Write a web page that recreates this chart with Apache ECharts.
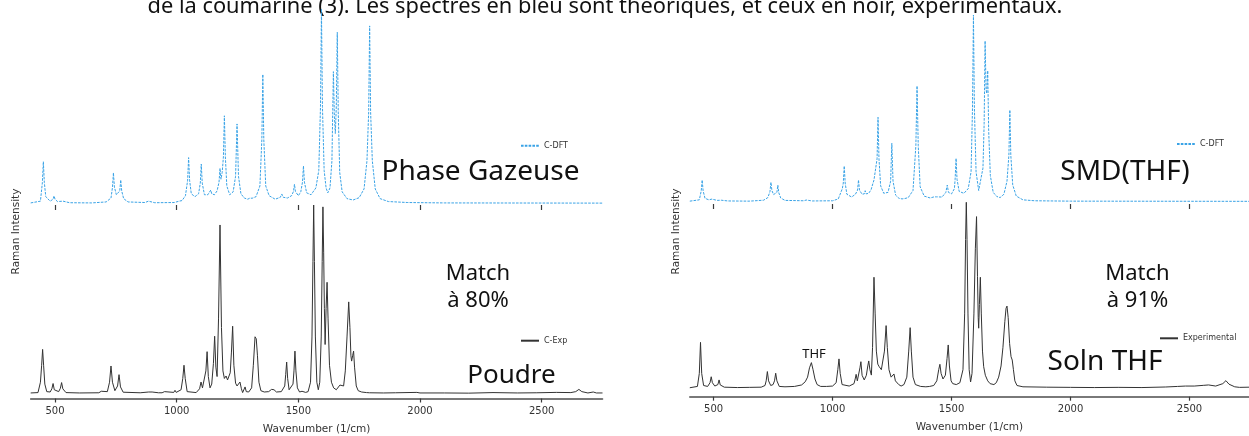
<!DOCTYPE html>
<html>
<head>
<meta charset="utf-8">
<script src="https://cdn.jsdelivr.net/npm/echarts@6/dist/echarts.min.js"></script>
<style>
  html, body { margin: 0; padding: 0; background: #fff; }
  #chart { width: 1249px; height: 436px; }
</style>
</head>
<body>
<div id="chart"></div>
<script>
// Raman spectra of coumarin: [wavenumber (1/cm), normalised intensity]
const gasDft = [
  [400,.003],[440,.012],[448,.108],[452,.215],[456,.108],[462,.035],[480,.012],[492,.022],[496,.039],[500,.022],
  [510,.01],[533,.012],[537,.02],[541,.012],[560,.004],[650,.003],[710,.008],[730,.028],[736,.082],[740,.158],
  [744,.085],[752,.045],[760,.045],[766,.065],[770,.121],[774,.065],[782,.025],[800,.008],[870,.005],[884,.012],
  [888,.02],[892,.012],[910,.004],[990,.005],[1010,.012],[1016,.02],[1022,.015],[1036,.04],[1045,.12],[1049,.236],
  [1053,.12],[1060,.05],[1075,.035],[1090,.05],[1097,.105],[1101,.203],[1105,.105],[1114,.045],[1128,.045],[1136,.05],
  [1140,.069],[1144,.05],[1155,.045],[1166,.065],[1174,.11],[1178,.181],[1182,.125],[1187,.16],[1192,.24],[1196,.451],
  [1200,.24],[1206,.09],[1218,.045],[1232,.06],[1242,.14],[1248,.409],[1254,.14],[1264,.05],[1278,.028],[1284,.028],
  [1292,.022],[1301,.028],[1305,.03],[1310,.027],[1326,.035],[1342,.09],[1350,.33],[1354,.664],[1358,.33],[1366,.09],
  [1380,.04],[1405,.022],[1426,.032],[1432,.049],[1438,.032],[1455,.028],[1472,.04],[1480,.062],[1484,.099],[1488,.062],
  [1500,.04],[1510,.06],[1517,.11],[1521,.193],[1525,.11],[1534,.055],[1552,.045],[1572,.08],[1584,.17],[1591,.5],
  [1595,1.0],[1599,.5],[1606,.17],[1614,.08],[1621,.055],[1630,.08],[1638,.22],[1644,.678],[1648,.45],[1652,.36],
  [1656,.5],[1660,.88],[1664,.47],[1670,.16],[1680,.06],[1700,.025],[1725,.018],[1750,.03],[1770,.075],[1782,.22],
  [1789,.47],[1793,.913],[1797,.47],[1804,.22],[1816,.075],[1836,.025],[1870,.01],[1950,.005],[2100,.003],[2750,.002]
];

const powderExp = [
  [400,.003],[430,.005],[440,.06],[445,.15],[449,.234],[453,.15],[458,.05],[466,.01],[480,.008],[487,.025],
  [492,.053],[497,.02],[515,.01],[522,.028],[527,.058],[532,.025],[545,.005],[600,.003],[680,.004],[690,.012],
  [696,.005],[715,.01],[724,.06],[730,.146],[736,.06],[746,.015],[757,.04],[763,.1],[769,.035],[780,.007],
  [850,.004],[885,.008],[892,.017],[899,.008],[925,.004],[932,.01],[940,.004],[950,.01],[958,.004],[988,.006],
  [993,.017],[998,.006],[1018,.02],[1025,.08],[1030,.15],[1035,.08],[1043,.01],[1080,.005],[1094,.025],[1100,.061],
  [1106,.03],[1114,.04],[1120,.12],[1125,.222],[1130,.09],[1137,.03],[1144,.05],[1151,.16],[1156,.304],[1161,.14],
  [1166,.09],[1172,.4],[1178,.894],[1184,.35],[1190,.12],[1196,.08],[1203,.093],[1209,.072],[1214,.07],[1220,.11],
  [1225,.22],[1230,.357],[1235,.15],[1242,.055],[1248,.04],[1254,.045],[1260,.061],[1266,.025],[1271,.005],[1276,.015],
  [1281,.035],[1286,.01],[1296,.008],[1308,.03],[1315,.15],[1322,.301],[1327,.29],[1332,.2],[1338,.06],[1346,.015],
  [1360,.008],[1378,.01],[1385,.012],[1390,.022],[1395,.012],[1400,.02],[1410,.008],[1430,.01],[1444,.04],[1448,.1],
  [1452,.167],[1456,.08],[1462,.02],[1470,.02],[1478,.05],[1482,.12],[1486,.225],[1490,.12],[1496,.03],[1505,.008],
  [1515,.012],[1522,.014],[1530,.006],[1540,.01],[1550,.06],[1556,.3],[1560,.7],[1563,1.0],[1566,.7],[1570,.3],
  [1576,.06],[1582,.02],[1588,.06],[1594,.3],[1598,.7],[1601,.99],[1604,.75],[1607,.45],[1610,.26],[1614,.45],
  [1618,.59],[1622,.4],[1628,.15],[1636,.06],[1645,.03],[1656,.02],[1664,.03],[1671,.045],[1678,.035],[1686,.04],
  [1693,.12],[1700,.3],[1707,.486],[1712,.35],[1716,.2],[1719,.172],[1723,.2],[1727,.225],[1731,.14],[1738,.04],
  [1746,.015],[1753,.022],[1760,.008],[1780,.005],[1786,.012],[1792,.004],[1850,.003],[1900,.004],[1987,.006],[2000,.003],
  [2100,.003],[2200,.002],[2300,.005],[2400,.003],[2480,.004],[2560,.006],[2620,.005],[2640,.01],[2653,.022],[2665,.01],
  [2690,.003],[2712,.008],[2725,.003],[2750,.003]
];

const thfDft = [
  [400,.003],[440,.01],[448,.058],[452,.116],[456,.058],[464,.018],[480,.01],[493,.014],[497,.023],[501,.013],
  [515,.007],[532,.008],[536,.012],[540,.008],[560,.004],[650,.003],[710,.008],[728,.022],[737,.055],[741,.104],
  [745,.06],[752,.038],[760,.04],[766,.05],[770,.089],[774,.048],[782,.02],[800,.007],[880,.005],[889,.009],
  [893,.013],[897,.009],[915,.004],[1000,.005],[1015,.011],[1024,.015],[1032,.02],[1041,.07],[1045,.1],[1049,.191],
  [1053,.1],[1060,.04],[1080,.025],[1096,.04],[1105,.062],[1109,.116],[1113,.062],[1124,.04],[1133,.042],[1137,.059],
  [1141,.042],[1152,.045],[1162,.065],[1170,.1],[1174,.116],[1180,.12],[1187,.23],[1191,.452],[1195,.23],[1202,.085],
  [1215,.045],[1233,.05],[1244,.11],[1249,.313],[1254,.11],[1265,.035],[1279,.018],[1292,.015],[1304,.017],[1318,.022],
  [1338,.06],[1350,.3],[1355,.62],[1360,.3],[1368,.08],[1385,.03],[1410,.02],[1427,.026],[1432,.036],[1437,.026],
  [1460,.025],[1476,.05],[1482,.089],[1487,.05],[1500,.042],[1512,.07],[1515,.12],[1519,.232],[1523,.12],[1532,.055],
  [1552,.045],[1570,.07],[1582,.16],[1588,.5],[1592,1.0],[1596,.5],[1603,.16],[1614,.06],[1622,.07],[1632,.18],
  [1637,.42],[1641,.861],[1645,.6],[1648,.58],[1652,.702],[1656,.38],[1663,.14],[1675,.05],[1690,.028],[1704,.022],
  [1720,.04],[1733,.11],[1741,.25],[1745,.491],[1749,.25],[1757,.09],[1772,.03],[1800,.01],[1850,.005],[2000,.003],
  [2750,.002]
];

const thfExp = [
  [400,.003],[432,.01],[440,.08],[445,.247],[450,.08],[458,.015],[475,.01],[485,.03],[490,.062],[495,.03],
  [505,.012],[518,.02],[523,.045],[528,.018],[545,.006],[600,.004],[650,.005],[700,.006],[716,.015],[721,.04],
  [726,.09],[731,.04],[740,.015],[750,.02],[756,.04],[761,.081],[766,.04],[776,.01],[800,.008],[840,.01],
  [870,.018],[885,.035],[895,.06],[903,.11],[911,.138],[918,.1],[926,.05],[935,.02],[950,.01],[975,.01],
  [1000,.012],[1015,.03],[1022,.1],[1027,.158],[1032,.08],[1040,.02],[1070,.012],[1090,.025],[1095,.05],[1099,.075],
  [1104,.04],[1110,.05],[1115,.11],[1119,.143],[1124,.07],[1133,.045],[1142,.07],[1148,.12],[1152,.147],[1157,.1],
  [1163,.071],[1168,.22],[1174,.597],[1179,.4],[1184,.2],[1190,.13],[1196,.116],[1205,.1],[1212,.11],[1218,.2],
  [1225,.337],[1230,.22],[1237,.1],[1246,.06],[1253,.065],[1258,.077],[1264,.04],[1272,.036],[1278,.02],[1288,.012],
  [1300,.02],[1312,.06],[1320,.2],[1326,.326],[1331,.2],[1338,.06],[1348,.02],[1370,.01],[1392,.008],[1400,.015],
  [1408,.01],[1425,.015],[1438,.04],[1446,.1],[1451,.129],[1456,.08],[1464,.05],[1474,.07],[1481,.16],[1486,.233],
  [1491,.12],[1498,.04],[1505,.025],[1511,.018],[1520,.02],[1535,.03],[1548,.1],[1555,.4],[1559,.8],[1562,1.0],
  [1565,.8],[1569,.4],[1574,.1],[1580,.034],[1586,.08],[1594,.4],[1600,.75],[1605,.923],[1609,.6],[1612,.38],
  [1614,.323],[1617,.45],[1621,.597],[1625,.4],[1630,.2],[1635,.116],[1642,.07],[1652,.04],[1662,.025],[1670,.025],
  [1678,.02],[1688,.03],[1698,.06],[1708,.12],[1716,.22],[1724,.36],[1729,.43],[1733,.442],[1738,.38],[1744,.24],
  [1750,.17],[1755,.152],[1760,.1],[1766,.04],[1775,.015],[1800,.008],[1900,.006],[2000,.005],[2100,.004],[2200,.005],
  [2300,.004],[2400,.007],[2450,.01],[2483,.012],[2520,.012],[2560,.016],[2580,.018],[2610,.012],[2640,.025],[2653,.041],
  [2666,.022],[2690,.008],[2710,.005],[2750,.006]
];

const tickValues = [500, 1000, 1500, 2000, 2500];
const wnRange = [400, 2750];

const captionText = 'de la coumarine (3). Les spectres en bleu sont théoriques, et ceux en noir, expérimentaux.';

const chart = echarts.init(document.getElementById('chart'), null, { renderer: 'canvas' });

const BLUE = '#3aa3e6';
const DARK = '#333333';
const MONO = 'DejaVu Sans';
const SANS = 'Noto Sans';

// four panels: [left, right, top, bottom, yMin]
const grids = [
  { left: 30.7, right: 646.5, top: 9,     bottom: 231,  yMin: -0.0077 }, // gas phase, DFT
  { left: 30.7, right: 646.5, top: 205,   bottom: 36.7, yMin: -0.0264 }, // powder, experimental
  { left: 689.8, right: -8.8, top: 15,    bottom: 232,  yMin: -0.0123 }, // SMD(THF), DFT
  { left: 689.8, right: -8.8, top: 202.3, bottom: 39.3, yMin: -0.0452 }  // THF solution, experimental
];

function xAxisFor(i, bottomAxis) {
  return {
    type: 'value', gridIndex: i, min: wnRange[0], max: wnRange[1],
    splitLine: { show: false },
    axisLine: { show: bottomAxis, onZero: false, lineStyle: { color: '#4d4d4d', width: 1.6 } },
    axisTick: { show: true, length: bottomAxis ? 4 : 5, customValues: tickValues,
                lineStyle: { color: '#3a3a3a', width: 1.2 } },
    axisLabel: { show: bottomAxis, customValues: tickValues, margin: 8,
                 formatter: v => String(v),
                 fontFamily: MONO, fontSize: 10, color: '#333' },
    name: bottomAxis ? 'Wavenumber (1/cm)' : '',
    nameLocation: 'middle', nameGap: 25.5,
    nameTextStyle: { fontFamily: MONO, fontSize: 10.5, color: '#333' }
  };
}

function yAxisFor(i) {
  return { type: 'value', gridIndex: i, min: grids[i].yMin, max: 1, show: false };
}

function lineSeries(name, data, i, dashed) {
  return {
    name, type: 'line', data, xAxisIndex: i, yAxisIndex: i,
    symbol: 'none', showSymbol: false, silent: true, animation: false,
    lineStyle: dashed ? { color: BLUE, width: 1, type: [2.6, 1.2] }
                      : { color: DARK, width: 1 },
    itemStyle: { color: dashed ? BLUE : DARK }
  };
}

function legendAt(name, left, top) {
  return {
    data: [name], left, top, orient: 'horizontal', selectedMode: false,
    itemWidth: 18, itemHeight: 8, padding: 0,
    itemStyle: { opacity: 0 },
    textStyle: { fontFamily: MONO, fontSize: 8, color: '#333' }
  };
}

function label(text, x, y, size, family) {
  return {
    type: 'text', x, y, silent: true,
    style: { text, font: size + 'px "' + (family || SANS) + '"', fill: '#111',
             align: 'center', verticalAlign: 'middle' }
  };
}

function sideTitle(x) {
  return {
    type: 'text', x, y: 231.5, rotation: Math.PI / 2, silent: true,
    style: { text: 'Raman Intensity', font: '10.5px "' + MONO + '"', fill: '#333',
             align: 'center', verticalAlign: 'middle' }
  };
}

const option = {
  backgroundColor: '#ffffff',
  animation: false,
  grid: grids.map(g => ({ left: g.left, right: g.right, top: g.top, bottom: g.bottom, containLabel: false })),
  xAxis: [xAxisFor(0, false), xAxisFor(1, true), xAxisFor(2, false), xAxisFor(3, true)],
  yAxis: [yAxisFor(0), yAxisFor(1), yAxisFor(2), yAxisFor(3)],
  legend: [
    legendAt('C-DFT', 520, 141.7),
    legendAt('C-Exp', 520, 336.7),
    legendAt('C-DFT', 1176, 140),
    legendAt('Experimental', 1159, 334.3)
  ],
  series: [
    lineSeries('C-DFT', gasDft, 0, true),
    lineSeries('C-Exp', powderExp, 1, false),
    lineSeries('C-DFT', thfDft, 2, true),
    lineSeries('Experimental', thfExp, 3, false)
  ],
  graphic: [
    label(captionText, 605, 6.4, 21.8),
    label('Phase Gazeuse', 480.5, 172, 28),
    label('Match', 478, 273.7, 22),
    label('à 80%', 478, 300.7, 22),
    label('Poudre', 511.5, 375.6, 26),
    label('SMD(THF)', 1125, 172, 28),
    label('Match', 1137.5, 273.7, 22),
    label('à 91%', 1137.5, 300.7, 22),
    label('Soln THF', 1105, 362, 28),
    label('THF', 814, 354.3, 13),
    sideTitle(16),
    sideTitle(676)
  ]
};

chart.setOption(option);
</script>
</body>
</html>
